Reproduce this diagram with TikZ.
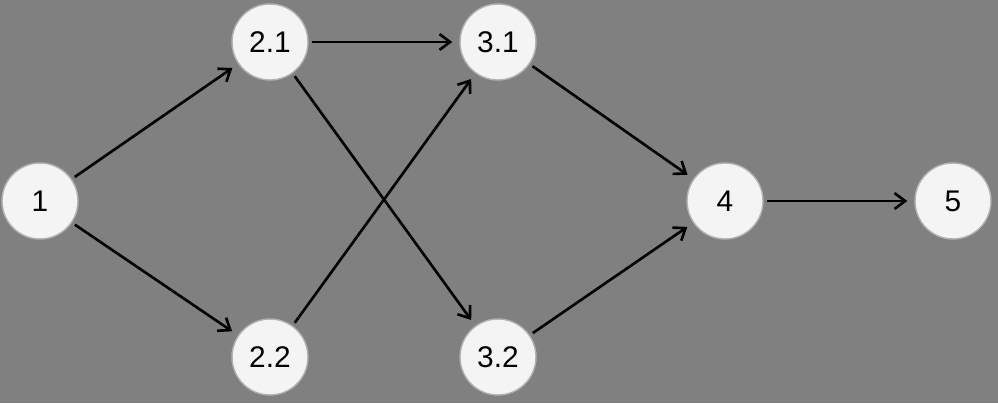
\documentclass[tikz,border=0pt]{standalone}
\usepackage{fontspec}
\setmainfont{Liberation Sans}
\usetikzlibrary{positioning,arrows.meta}
\definecolor{bggray}{HTML}{808080}
\definecolor{nodefill}{HTML}{F4F4F4}
\tikzset{
  state/.style={circle, fill=nodefill, draw=gray!60, line width=0.8pt, minimum size=1.52cm, inner sep=0pt, font=\fontsize{17}{19}\selectfont},
  link/.style={-{Straight Barb[length=6pt,width=9pt,line width=1.5pt]}, line width=1.5pt, shorten >=4pt, shorten <=2pt}
}
\begin{document}
\begin{tikzpicture}[x=0.02cm, y=-0.02cm]
\fill[bggray] (0,0) rectangle (998,403);
\useasboundingbox (0,0) rectangle (998,403);

\node[state] (n1) at (40,201) {1};
\node[state] (n21) at (270,42) {2.1};
\node[state] (n22) at (270,357) {2.2};
\node[state] (n31) at (498,42) {3.1};
\node[state] (n32) at (498,357) {3.2};
\node[state] (n4) at (725,201) {4};
\node[state] (n5) at (953,201) {5};

\draw[link] (n1) -- (n21);
\draw[link] (n1) -- (n22);
\draw[link] (n21) -- (n31);
\draw[link] (n21) -- (n32);
\draw[link] (n22) -- (n31);
\draw[link] (n31) -- (n4);
\draw[link] (n32) -- (n4);
\draw[link] (n4) -- (n5);

\end{tikzpicture}
\end{document}
